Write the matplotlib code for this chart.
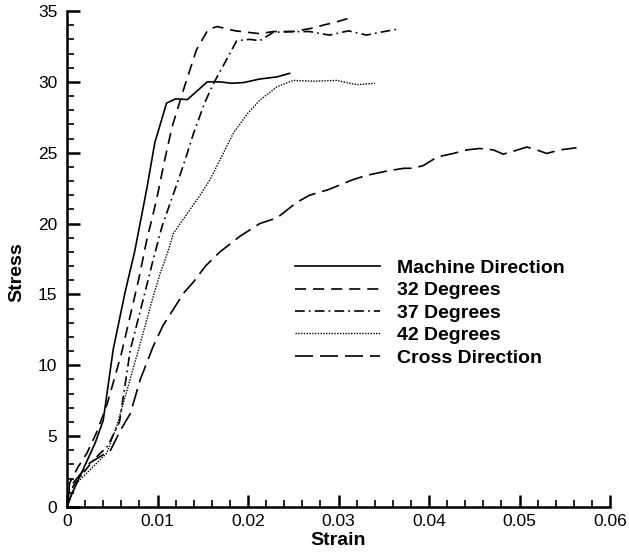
import matplotlib.pyplot as plt

plt.rcParams['font.family'] = ['Liberation Sans', 'DejaVu Sans']
plt.rcParams['lines.scale_dashes'] = False

# Stress-strain curves
md_strain = [0, 0.0005, 0.0016, 0.0031, 0.0040, 0.0051, 0.0064, 0.0075, 0.0088, 0.0097,
             0.0110, 0.0120, 0.0133, 0.0155, 0.0169, 0.0182, 0.0195, 0.0213, 0.0232, 0.0246]
md_stress = [0, 0.9, 2.4, 4.5, 6.1, 11.1, 15.1, 18.1, 22.4, 25.7,
             28.5, 28.8, 28.75, 30.0, 30.0, 29.9, 29.95, 30.2, 30.35, 30.6]

d32_strain = [0, 0.0003, 0.0012, 0.0022, 0.0033, 0.0044, 0.0053, 0.0060, 0.0079, 0.0088,
              0.0099, 0.0108, 0.0116, 0.0123, 0.0130, 0.0143, 0.0156, 0.0166, 0.0186, 0.0199,
              0.0213, 0.0228, 0.0250, 0.0272, 0.0283, 0.0296, 0.0315]
d32_stress = [0, 1.7, 2.8, 3.8, 5.3, 7.2, 9.2, 10.8, 16.0, 18.8,
              21.7, 24.5, 26.8, 28.25, 29.7, 32.25, 33.7, 33.9, 33.6, 33.5,
              33.4, 33.55, 33.55, 33.8, 34.0, 34.2, 34.55]

d37_strain = [0, 0.0007, 0.0029, 0.0045, 0.0058, 0.0070, 0.0086, 0.0095, 0.0105, 0.0116,
              0.0128, 0.0140, 0.0152, 0.0162, 0.0174, 0.01875, 0.0202, 0.0213, 0.0228, 0.0250,
              0.0268, 0.0290, 0.0311, 0.0331, 0.0346, 0.0364]
d37_stress = [0, 1.5, 3.3, 4.3, 6.0, 11.1, 15.1, 17.4, 19.8, 21.8,
              24.0, 26.4, 28.5, 29.9, 31.3, 32.9, 33.0, 32.9, 33.5, 33.55,
              33.55, 33.3, 33.6, 33.3, 33.5, 33.7]

d42_strain = [0, 0.0011, 0.0029, 0.0044, 0.0055, 0.0079, 0.0095, 0.0103, 0.0112, 0.01175,
              0.0136, 0.0146, 0.0158, 0.0169, 0.0184, 0.0200, 0.0213, 0.0232, 0.0250, 0.0272,
              0.0298, 0.0320, 0.0340]
d42_stress = [0, 1.7, 2.85, 3.8, 5.7, 11.1, 14.8, 16.5, 18.1, 19.3,
              21.0, 21.9, 23.1, 24.5, 26.4, 27.8, 28.7, 29.65, 30.1, 30.05,
              30.1, 29.8, 29.9]

cd_strain = [0, 0.0003, 0.0025, 0.0048, 0.0059, 0.0070, 0.0081, 0.0095, 0.0106, 0.0118,
             0.0129, 0.0140, 0.0153, 0.0169, 0.0191, 0.0213, 0.0232, 0.0254, 0.0268, 0.0289,
             0.0316, 0.0331, 0.0353, 0.0372, 0.0383, 0.0394, 0.0409, 0.0427, 0.0442, 0.0456,
             0.0471, 0.0482, 0.0493, 0.0508, 0.0519, 0.0530, 0.0545, 0.0563]
cd_stress = [0, 1.4, 3.1, 4.0, 5.4, 6.6, 9.0, 11.3, 12.8, 14.0,
             15.1, 15.9, 17.0, 18.0, 19.1, 20.0, 20.4, 21.5, 22.0, 22.4,
             23.1, 23.4, 23.7, 23.9, 23.9, 24.1, 24.7, 24.95, 25.2, 25.3,
             25.2, 24.9, 25.1, 25.4, 25.2, 24.95, 25.2, 25.35]

x_ticks = [0, 0.01, 0.02, 0.03, 0.04, 0.05, 0.06]
x_labels = ['0', '0.01', '0.02', '0.03', '0.04', '0.05', '0.06']
y_ticks = [0, 5, 10, 15, 20, 25, 30, 35]

fig = plt.figure(figsize=(6.29, 5.56), dpi=100)
ax = fig.add_axes([67 / 629, 49 / 556, 543 / 629, 496 / 556])

lw = 1.2
ax.plot(md_strain, md_stress, color='black', lw=lw, label='Machine Direction')
ax.plot(d32_strain, d32_stress, color='black', lw=lw, linestyle=(0, (8, 5)), label='32 Degrees')
ax.plot(d37_strain, d37_stress, color='black', lw=lw, linestyle=(0, (7, 3, 1.2, 3)), label='37 Degrees')
ax.plot(d42_strain, d42_stress, color='black', lw=1.0, linestyle=(0, (1, 1)), label='42 Degrees')
ax.plot(cd_strain, cd_stress, color='black', lw=lw, linestyle=(0, (13, 5)), label='Cross Direction')

ax.set_xlim(0, 0.06)
ax.set_ylim(0, 35)
ax.set_xticks(x_ticks)
ax.set_xticklabels(x_labels)
ax.set_yticks(y_ticks)
ax.set_xticks([i * 0.002 for i in range(31)], minor=True)
ax.set_yticks(range(36), minor=True)

for side in ['top', 'right']:
    ax.spines[side].set_visible(False)
for side in ['left', 'bottom']:
    ax.spines[side].set_linewidth(1.8)

ax.tick_params(which='major', direction='in', length=9, width=1.8, labelsize=12.5, pad=5)
ax.tick_params(which='minor', direction='in', length=5, width=1.2)
ax.tick_params(axis='y', which='major', pad=7)

ax.set_xlabel('Strain', fontsize=14, fontweight='bold', labelpad=2)
ax.set_ylabel('Stress', fontsize=14, fontweight='bold')
ax.yaxis.set_label_coords(-0.077, 0.474)

ax.legend(loc='center left', bbox_to_anchor=(295 / 629, (556 - 313) / 556),
          bbox_transform=fig.transFigure, frameon=False, borderpad=0, borderaxespad=0,
          handlelength=4.37, handletextpad=0.87, labelspacing=0.25,
          prop={'size': 14, 'weight': 'bold'})

plt.savefig('out.png', dpi=100)
